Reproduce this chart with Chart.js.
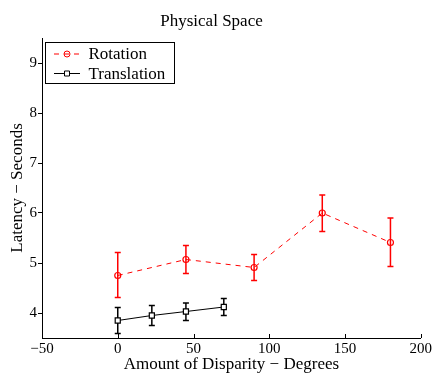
<!DOCTYPE html>
<html>
<head>
<meta charset="utf-8">
<script src="https://cdn.jsdelivr.net/npm/chart.js@4/dist/chart.umd.min.js"></script>
<style>
  html, body { margin: 0; padding: 0; background: #fff; overflow: hidden; }
  canvas { display: block; }
</style>
</head>
<body>
<canvas id="myChart" width="434" height="375"></canvas>
<script>
// valores
const rotX     = [0, 45, 90, 135, 180];
const rotMean  = [4.75, 5.07, 4.91, 6.00, 5.41];
const rotLow   = [4.31, 4.79, 4.65, 5.63, 4.93];
const rotHigh  = [5.21, 5.35, 5.17, 6.36, 5.90];

const transX    = [0, 22.5, 45, 70];
const transMean = [3.85, 3.95, 4.03, 4.12];
const transLow  = [3.59, 3.75, 3.85, 3.95];
const transHigh = [4.11, 4.15, 4.20, 4.29];

const xTicks = [-50, 0, 50, 100, 150, 200];
const yTicks = [4, 5, 6, 7, 8, 9];

Chart.defaults.font.family = "'Liberation Serif', 'Times New Roman', serif";
Chart.defaults.color = '#000';

//barras de error
const errorBars = {
    id: 'errorBars',
    beforeDatasetsDraw(chart) {
        const ctx = chart.ctx;
        const xs = chart.scales.x, ys = chart.scales.y;
        chart.data.datasets.forEach((ds) => {
            ctx.save();
            ctx.strokeStyle = ds.borderColor;
            ctx.lineWidth = 1.5;
            ds.data.forEach((p, i) => {
                const px = xs.getPixelForValue(p.x);
                const top = ys.getPixelForValue(ds.high[i]);
                const bot = ys.getPixelForValue(ds.low[i]);
                ctx.beginPath();
                ctx.moveTo(px, top); ctx.lineTo(px, bot);
                ctx.moveTo(px - 3, top); ctx.lineTo(px + 3, top);
                ctx.moveTo(px - 3, bot); ctx.lineTo(px + 3, bot);
                ctx.stroke();
            });
            ctx.restore();
        });
    }
};

//marcas hacia adentro en el eje x y leyenda tipo matlab
const matlabBits = {
    id: 'matlabBits',
    afterDraw(chart) {
        const ctx = chart.ctx;
        const xs = chart.scales.x;
        const area = chart.chartArea;
        ctx.save();
        ctx.strokeStyle = '#000';
        ctx.lineWidth = 1;
        xs.ticks.forEach((t) => {
            const px = Math.round(xs.getPixelForValue(t.value)) + 0.5;
            ctx.beginPath();
            ctx.moveTo(px, area.bottom);
            ctx.lineTo(px, area.bottom - 4);
            ctx.stroke();
        });

        const bx = 45.5, by = 42.5, bw = 129, bh = 41;
        ctx.fillStyle = '#fff';
        ctx.fillRect(bx, by, bw, bh);
        ctx.strokeRect(bx, by, bw, bh);
        chart.data.datasets.forEach((ds, i) => {
            const y = 54 + i * 19.5;
            ctx.strokeStyle = ds.borderColor;
            ctx.setLineDash(ds.borderDash || []);
            ctx.beginPath();
            ctx.moveTo(54, y); ctx.lineTo(80, y);
            ctx.stroke();
            ctx.setLineDash([]);
            ctx.fillStyle = ds.pointBackgroundColor;
            ctx.beginPath();
            if (ds.pointStyle === 'rect') {
                ctx.rect(64.5, y - 2.5, 5, 5);
            } else {
                ctx.arc(67, y, 3, 0, Math.PI * 2);
            }
            ctx.fill();
            ctx.stroke();
            ctx.fillStyle = '#000';
            ctx.font = "17px 'Liberation Serif', 'Times New Roman', serif";
            ctx.textBaseline = 'middle';
            ctx.fillText(ds.label, 88.5, y + 1);
        });
        ctx.restore();
    }
};

const data = {
    datasets: [{
        label: 'Rotation',
        data: rotX.map((x, i) => ({ x: x, y: rotMean[i] })),
        low: rotLow,
        high: rotHigh,
        borderColor: '#ff0000',
        borderWidth: 1,
        borderDash: [5, 5],
        pointStyle: 'circle',
        pointRadius: 3,
        pointBorderWidth: 1.2,
        pointBackgroundColor: 'rgba(255,255,255,0)',
        pointBorderColor: '#ff0000',
        tension: 0,
    }, {
        label: 'Translation',
        data: transX.map((x, i) => ({ x: x, y: transMean[i] })),
        low: transLow,
        high: transHigh,
        borderColor: '#000000',
        borderWidth: 1,
        pointStyle: 'rect',
        pointRadius: 3.6,
        pointBorderWidth: 1.2,
        pointBackgroundColor: '#ffffff',
        pointBorderColor: '#000000',
        tension: 0,
    }]
};

const config = {
    type: 'line',
    data: data,
    options: {
        responsive: false,
        animation: false,
        layout: { padding: { left: 0, right: 11, top: 0, bottom: 0 } },
        plugins: {
            legend: { display: false },
            tooltip: { enabled: false },
            title: {
                display: true,
                text: 'Physical Space',
                font: { size: 17, weight: 'normal' },
                color: '#000',
                padding: { top: 11, bottom: 6.6 }
            }
        },
        scales: {
            x: {
                type: 'linear',
                min: -50,
                max: 200,
                afterFit: (s) => { s.height = 375 - 338; },
                afterBuildTicks: (s) => { s.ticks = xTicks.map((v) => ({ value: v })); },
                ticks: {
                    font: { size: 15 },
                    padding: 2,
                    maxRotation: 0,
                    callback: (v) => v < 0 ? '\u2212' + Math.abs(v) : v
                },
                grid: { display: true, drawOnChartArea: false, drawTicks: false },
                border: { display: true, color: '#000', width: 1 },
                title: {
                    display: true,
                    text: 'Amount of Disparity \u2212 Degrees',
                    font: { size: 17 },
                    padding: { top: 0, bottom: 0 }
                }
            },
            y: {
                type: 'linear',
                min: 3.5,
                max: 9.5,
                afterFit: (s) => { s.width = 42; },
                afterBuildTicks: (s) => { s.ticks = yTicks.map((v) => ({ value: v })); },
                ticks: { font: { size: 15 }, padding: 1 },
                grid: { display: true, drawOnChartArea: false, drawTicks: true, tickLength: 4, color: '#000' },
                border: { display: true, color: '#000', width: 1 },
                title: {
                    display: true,
                    text: 'Latency \u2212 Seconds',
                    font: { size: 17 },
                    padding: { top: 7, bottom: 0 }
                }
            }
        }
    },
    plugins: [errorBars, matlabBits]
};

const myChart = new Chart(
    document.getElementById('myChart'),
    config
);
</script>
</body>
</html>
